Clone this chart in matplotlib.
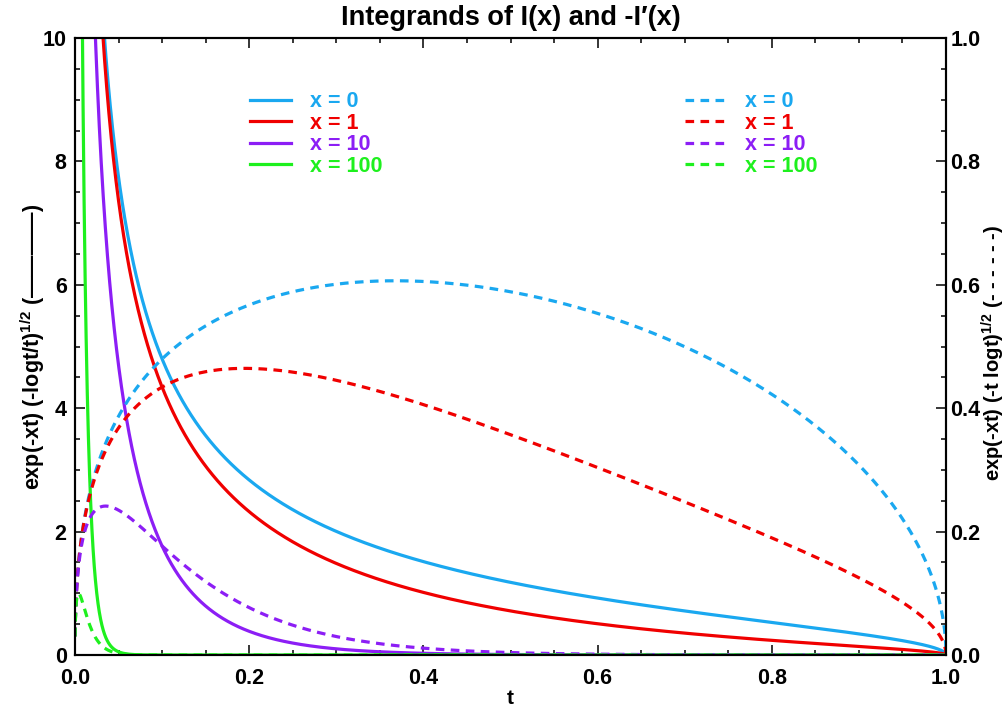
import numpy as np
import matplotlib
matplotlib.use("Agg")
import matplotlib.pyplot as plt
from matplotlib.ticker import MultipleLocator

plt.rcParams["font.family"] = ["Liberation Sans", "DejaVu Sans"]
plt.rcParams["font.weight"] = "bold"
plt.rcParams["mathtext.fontset"] = "custom"
plt.rcParams["mathtext.rm"] = "Liberation Sans:bold"
plt.rcParams["mathtext.bf"] = "Liberation Sans:bold"
plt.rcParams["mathtext.it"] = "Liberation Sans:bold"

# parameter values and their colours
x_values = [0, 1, 10, 100]
x_labels = ["x = 0", "x = 1", "x = 10", "x = 100"]
colors = ["#1aa8f0", "#f00000", "#8c1ef5", "#1ef01e"]

x_ticks = [0.0, 0.2, 0.4, 0.6, 0.8, 1.0]
left_ticks = [0, 2, 4, 6, 8, 10]
right_ticks = [0.0, 0.2, 0.4, 0.6, 0.8, 1.0]

t = np.linspace(1e-4, 1.0, 6000)

fig = plt.figure(figsize=(10.06, 7.11), dpi=100)
ax = fig.add_axes([75 / 1006, 1 - 655 / 711, 871 / 1006, 617 / 711])
ax2 = ax.twinx()

lw = 2.3
solid_handles = []
dash_handles = []
for xv, lab, c in zip(x_values, x_labels, colors):
    f_solid = np.exp(-xv * t) * np.sqrt(-np.log(t) / t)
    f_dash = np.exp(-xv * t) * np.sqrt(-t * np.log(t))
    h1, = ax.plot(t, f_solid, color=c, lw=lw, label=lab)
    h2, = ax2.plot(t, f_dash, color=c, lw=lw, label=lab, dashes=(2.7, 2.0))
    solid_handles.append(h1)
    dash_handles.append(h2)

ax.set_xlim(0, 1)
ax.set_ylim(0, 10)
ax2.set_ylim(0, 1)

ax.set_xticks(x_ticks)
ax.set_xticklabels([f"{v:.1f}" for v in x_ticks])
ax.set_yticks(left_ticks)
ax.set_yticklabels([str(v) for v in left_ticks])
ax2.set_yticks(right_ticks)
ax2.set_yticklabels([f"{v:.1f}" for v in right_ticks])
ax.xaxis.set_minor_locator(MultipleLocator(0.05))
ax.yaxis.set_minor_locator(MultipleLocator(0.5))
ax2.yaxis.set_minor_locator(MultipleLocator(0.05))

for a in (ax, ax2):
    for s in a.spines.values():
        s.set_linewidth(1.5)
ax.tick_params(which="both", direction="in", top=True, right=False, width=1.1,
               labelsize=15.5)
ax.tick_params(axis="x", pad=9)
ax.tick_params(axis="y", pad=6)
ax.tick_params(which="major", length=7.5)
ax.tick_params(which="minor", length=3.8)
ax2.tick_params(which="both", direction="in", width=1.1, labelsize=15.5, pad=3)
ax2.tick_params(which="major", length=7.5)
ax2.tick_params(which="minor", length=3.8)

ax.set_xlabel("t", fontsize=15, fontweight="bold", va="center")
ax.xaxis.set_label_coords(0.5, -0.070)
ax.set_ylabel("exp(-xt) (-logt/t)$^{1/2}$ (\u2014\u2014\u2014\u2014)", fontsize=15.5,
              fontweight="bold", va="center")
ax.yaxis.set_label_coords(-0.048, 0.5)
ax2.set_ylabel("exp(-xt) (-t logt)$^{1/2}$ (- - - - - -)", fontsize=14.5,
               fontweight="bold", rotation=90, va="center")
ax2.yaxis.set_label_coords(1.0545, 0.49)
fig.text(0.5 * (75 + 946) / 1006, 1 - 18 / 711, "Integrands of I(x) and -I\u2032(x)",
         fontsize=19.5, fontweight="bold", ha="center", va="center")

leg_kw = dict(frameon=False, handlelength=1.9, handletextpad=0.9,
              labelspacing=0.03, borderpad=0, borderaxespad=0, labelcolor="linecolor",
              prop={"weight": "bold", "size": 15.5})
leg1 = ax2.legend(handles=solid_handles, loc="upper left",
                  bbox_to_anchor=(0.201, 0.914), **leg_kw)
ax2.add_artist(leg1)
ax2.legend(handles=dash_handles, loc="upper left",
           bbox_to_anchor=(0.700, 0.914), **leg_kw)

fig.savefig("out.png", dpi=100)
